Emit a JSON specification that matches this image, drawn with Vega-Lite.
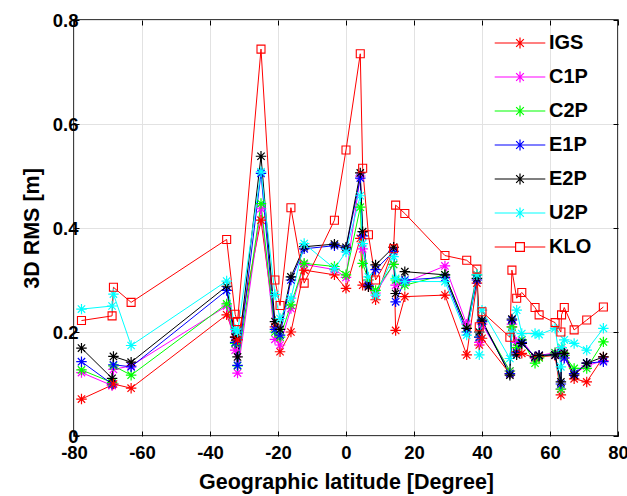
{
 "$schema": "https://vega.github.io/schema/vega-lite/v6.json",
 "width": 544,
 "height": 416,
 "autosize": "none",
 "padding": {"left": 74, "top": 20, "right": 9, "bottom": 60},
 "background": "white",
 "data": {"values": [
  {"lat": -77.8, "IGS": 0.071, "C1P": 0.122, "C2P": 0.127, "E1P": 0.143, "E2P": 0.169, "U2P": 0.244, "KLO": 0.222},
  {"lat": -68.8, "IGS": 0.098, "C1P": 0.097, "C2P": 0.103, "E1P": 0.100, "E2P": 0.111, "U2P": 0.250, "KLO": 0.231},
  {"lat": -68.4, "IGS": 0.100, "C1P": 0.128, "C2P": 0.135, "E1P": 0.137, "E2P": 0.153, "U2P": 0.273, "KLO": 0.286},
  {"lat": -63.2, "IGS": 0.092, "C1P": 0.135, "C2P": 0.117, "E1P": 0.133, "E2P": 0.142, "U2P": 0.174, "KLO": 0.257},
  {"lat": -35.1, "IGS": 0.233, "C1P": 0.250, "C2P": 0.254, "E1P": 0.280, "E2P": 0.288, "U2P": 0.298, "KLO": 0.378},
  {"lat": -32.6, "IGS": 0.190, "C1P": 0.165, "C2P": 0.178, "E1P": 0.180, "E2P": 0.190, "U2P": 0.205, "KLO": 0.234},
  {"lat": -31.9, "IGS": 0.185, "C1P": 0.121, "C2P": 0.135, "E1P": 0.136, "E2P": 0.152, "U2P": 0.200, "KLO": 0.220},
  {"lat": -25.0, "IGS": 0.415, "C1P": 0.437, "C2P": 0.447, "E1P": 0.505, "E2P": 0.538, "U2P": 0.508, "KLO": 0.744},
  {"lat": -20.9, "IGS": 0.210, "C1P": 0.186, "C2P": 0.200, "E1P": 0.205, "E2P": 0.220, "U2P": 0.272, "KLO": 0.300},
  {"lat": -19.4, "IGS": 0.162, "C1P": 0.175, "C2P": 0.190, "E1P": 0.194, "E2P": 0.205, "U2P": 0.226, "KLO": 0.251},
  {"lat": -16.2, "IGS": 0.200, "C1P": 0.245, "C2P": 0.252, "E1P": 0.300, "E2P": 0.306, "U2P": 0.265, "KLO": 0.439},
  {"lat": -12.3, "IGS": 0.319, "C1P": 0.330, "C2P": 0.332, "E1P": 0.360, "E2P": 0.364, "U2P": 0.370, "KLO": 0.294},
  {"lat": -3.4, "IGS": 0.310, "C1P": 0.320, "C2P": 0.326, "E1P": 0.366, "E2P": 0.369, "U2P": 0.322, "KLO": 0.415},
  {"lat": 0.0, "IGS": 0.284, "C1P": 0.305, "C2P": 0.310, "E1P": 0.360, "E2P": 0.363, "U2P": 0.354, "KLO": 0.550},
  {"lat": 4.2, "IGS": 0.380, "C1P": 0.500, "C2P": 0.440, "E1P": 0.496, "E2P": 0.506, "U2P": 0.462, "KLO": 0.735},
  {"lat": 4.9, "IGS": 0.290, "C1P": 0.360, "C2P": 0.332, "E1P": 0.385, "E2P": 0.393, "U2P": 0.370, "KLO": 0.515},
  {"lat": 6.6, "IGS": 0.287, "C1P": 0.300, "C2P": 0.300, "E1P": 0.290, "E2P": 0.287, "U2P": 0.306, "KLO": 0.387},
  {"lat": 8.7, "IGS": 0.262, "C1P": 0.275, "C2P": 0.280, "E1P": 0.320, "E2P": 0.329, "U2P": 0.271, "KLO": 0.300},
  {"lat": 14.0, "IGS": 0.363, "C1P": 0.330, "C2P": 0.330, "E1P": 0.355, "E2P": 0.363, "U2P": 0.345, "KLO": 0.360},
  {"lat": 14.6, "IGS": 0.203, "C1P": 0.290, "C2P": 0.300, "E1P": 0.258, "E2P": 0.274, "U2P": 0.303, "KLO": 0.444},
  {"lat": 17.3, "IGS": 0.268, "C1P": 0.295, "C2P": 0.290, "E1P": 0.300, "E2P": 0.316, "U2P": 0.297, "KLO": 0.428},
  {"lat": 29.1, "IGS": 0.271, "C1P": 0.327, "C2P": 0.310, "E1P": 0.305, "E2P": 0.310, "U2P": 0.297, "KLO": 0.347},
  {"lat": 35.5, "IGS": 0.156, "C1P": 0.215, "C2P": 0.207, "E1P": 0.200, "E2P": 0.207, "U2P": 0.194, "KLO": 0.338},
  {"lat": 38.5, "IGS": 0.294, "C1P": 0.310, "C2P": 0.310, "E1P": 0.300, "E2P": 0.303, "U2P": 0.310, "KLO": 0.321},
  {"lat": 39.2, "IGS": 0.175, "C1P": 0.180, "C2P": 0.190, "E1P": 0.190, "E2P": 0.200, "U2P": 0.156, "KLO": 0.210},
  {"lat": 40.0, "IGS": 0.188, "C1P": 0.215, "C2P": 0.220, "E1P": 0.220, "E2P": 0.223, "U2P": 0.242, "KLO": 0.239},
  {"lat": 48.2, "IGS": 0.120, "C1P": 0.125, "C2P": 0.125, "E1P": 0.120, "E2P": 0.117, "U2P": 0.149, "KLO": 0.190},
  {"lat": 48.8, "IGS": 0.210, "C1P": 0.215, "C2P": 0.210, "E1P": 0.223, "E2P": 0.225, "U2P": 0.200, "KLO": 0.319},
  {"lat": 50.2, "IGS": 0.162, "C1P": 0.180, "C2P": 0.170, "E1P": 0.160, "E2P": 0.156, "U2P": 0.242, "KLO": 0.265},
  {"lat": 51.7, "IGS": 0.159, "C1P": 0.185, "C2P": 0.185, "E1P": 0.180, "E2P": 0.178, "U2P": 0.197, "KLO": 0.276},
  {"lat": 55.6, "IGS": 0.150, "C1P": 0.150, "C2P": 0.140, "E1P": 0.152, "E2P": 0.152, "U2P": 0.197, "KLO": 0.247},
  {"lat": 56.8, "IGS": 0.152, "C1P": 0.155, "C2P": 0.150, "E1P": 0.155, "E2P": 0.155, "U2P": 0.195, "KLO": 0.233},
  {"lat": 61.5, "IGS": 0.155, "C1P": 0.160, "C2P": 0.160, "E1P": 0.156, "E2P": 0.156, "U2P": 0.207, "KLO": 0.218},
  {"lat": 63.2, "IGS": 0.079, "C1P": 0.090, "C2P": 0.090, "E1P": 0.100, "E2P": 0.104, "U2P": 0.133, "KLO": 0.200},
  {"lat": 63.4, "IGS": 0.160, "C1P": 0.165, "C2P": 0.170, "E1P": 0.160, "E2P": 0.159, "U2P": 0.170, "KLO": 0.233},
  {"lat": 64.2, "IGS": 0.155, "C1P": 0.150, "C2P": 0.155, "E1P": 0.150, "E2P": 0.159, "U2P": 0.185, "KLO": 0.247},
  {"lat": 67.1, "IGS": 0.110, "C1P": 0.120, "C2P": 0.130, "E1P": 0.120, "E2P": 0.117, "U2P": 0.178, "KLO": 0.204},
  {"lat": 70.8, "IGS": 0.104, "C1P": 0.135, "C2P": 0.130, "E1P": 0.140, "E2P": 0.140, "U2P": 0.165, "KLO": 0.223},
  {"lat": 75.7, "IGS": 0.152, "C1P": 0.145, "C2P": 0.181, "E1P": 0.143, "E2P": 0.152, "U2P": 0.207, "KLO": 0.248}
 ]},
 "transform": [{"fold": ["IGS", "C1P", "C2P", "E1P", "E2P", "U2P", "KLO"], "as": ["s", "v"]}],
 "layer": [
  {
   "mark": {"type": "line", "strokeWidth": 1},
   "encoding": {
    "x": {"field": "lat", "type": "quantitative",
     "scale": {"domain": [-80, 80], "nice": false, "zero": false},
     "axis": {"orient": "bottom", "values": [-80, -60, -40, -20, 0, 20, 40, 60, 80], "labelExpr": "datum.value + ''",
      "title": "Geographic latitude [Degree]", "grid": true, "tickSize": -5, "labelPadding": 12, "titlePadding": 10, "labelFlush": false}},
    "y": {"field": "v", "type": "quantitative",
     "scale": {"domain": [0, 0.8], "nice": false},
     "axis": {"orient": "left", "values": [0, 0.2, 0.4, 0.6, 0.8], "labelExpr": "datum.value == 0 ? '0' : format(datum.value, '.1f')",
      "title": "3D RMS [m]", "grid": true, "tickSize": -5, "labelPadding": 1, "titlePadding": 9, "labelFlush": false}},
    "color": {"field": "s", "type": "nominal",
     "scale": {"domain": ["IGS", "C1P", "C2P", "E1P", "E2P", "U2P", "KLO"],
      "range": ["#ff0000", "#ff00ff", "#00ff00", "#0000ff", "#000000", "#00ffff", "#ff0000"]},
     "legend": {"title": null, "orient": "none", "legendX": 411, "legendY": 13, "padding": 0,
      "symbolSize": 121, "symbolOffset": 25, "labelOffset": 19, "rowPadding": 14,
      "labelFont": "Liberation Sans", "labelFontWeight": "bold", "labelFontSize": 20, "labelColor": "#000000",
      "symbolStrokeWidth": 1.2,
      "encode": {"symbols": {"update": {
       "shape": {"signal": "datum.value === 'KLO' ? 'M-0.8,-0.8L0.8,-0.8L0.8,0.8L-0.8,0.8ZM-4.6,0L-0.8,0M0.8,0L4.6,0' : 'M0,-1L0,1M-0.7,-0.7L0.7,0.7M-0.7,0.7L0.7,-0.7M-4.6,0L4.6,0'"},
       "fill": {"value": "transparent"},
       "stroke": {"scale": "color", "field": "value"},
       "strokeWidth": {"value": 1.2},
       "opacity": {"value": 1}
      }}}}}
   }
  },
  {
   "transform": [{"filter": "datum.s !== 'KLO'"}],
   "mark": {"type": "point", "filled": false, "strokeWidth": 1.2, "opacity": 1, "size": 110,
    "shape": "M0,-1L0,1M-1,0L1,0M-0.7,-0.7L0.7,0.7M-0.7,0.7L0.7,-0.7"},
   "encoding": {
    "x": {"field": "lat", "type": "quantitative",
     "axis": {"orient": "top", "values": [-80, -60, -40, -20, 0, 20, 40, 60, 80], "labels": false, "grid": false, "domain": false, "tickSize": -5, "title": null}},
    "y": {"field": "v", "type": "quantitative",
     "axis": {"orient": "right", "values": [0, 0.2, 0.4, 0.6, 0.8], "labels": false, "grid": false, "domain": false, "tickSize": -5, "title": null}},
    "color": {"field": "s", "type": "nominal"}
   }
  },
  {
   "transform": [{"filter": "datum.s === 'KLO'"}],
   "mark": {"type": "point", "filled": false, "strokeWidth": 1.1, "opacity": 1, "size": 64, "shape": "square"},
   "encoding": {
    "x": {"field": "lat", "type": "quantitative", "axis": null},
    "y": {"field": "v", "type": "quantitative", "axis": null},
    "color": {"field": "s", "type": "nominal"}
   }
  }
 ],
 "resolve": {"axis": {"x": "independent", "y": "independent"}},
 "config": {
  "view": {"stroke": "#000000", "strokeWidth": 1.5},
  "axis": {
   "domain": false, "gridColor": "#e2e2e2", "gridWidth": 1, "gridOpacity": 1,
   "tickColor": "#000000", "tickWidth": 1,
   "labelFont": "Liberation Sans", "labelFontWeight": "bold", "labelFontSize": 18.5, "labelColor": "#000000",
   "titleFont": "Liberation Sans", "titleFontWeight": "bold", "titleFontSize": 21.5, "titleColor": "#000000"
  }
 }
}
